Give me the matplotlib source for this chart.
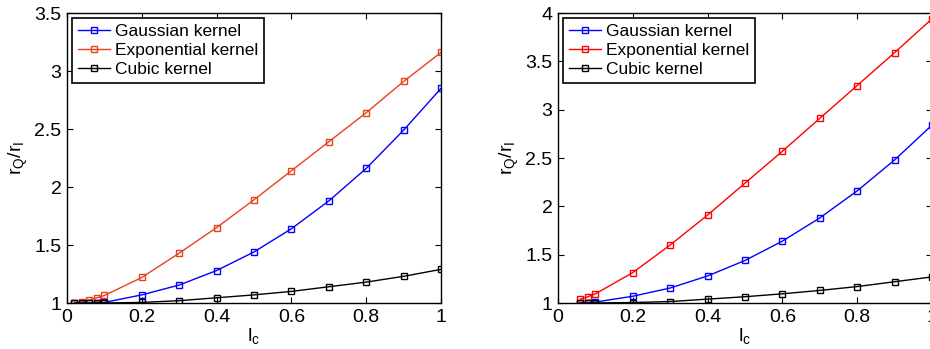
import matplotlib
matplotlib.use('Agg')
import matplotlib.pyplot as plt

plt.rcParams['font.family'] = ['Liberation Sans', 'DejaVu Sans']
plt.rcParams['mathtext.default'] = 'regular'

# left panel
x_left = [0.02, 0.04, 0.06, 0.08, 0.1, 0.2, 0.3, 0.4, 0.5, 0.6, 0.7, 0.8, 0.9, 1.0]
gauss_left = [1.0, 1.0, 1.0, 1.0, 1.005, 1.07, 1.155, 1.28, 1.44, 1.64, 1.88, 2.16, 2.49, 2.85]
expo_left = [1.0, 1.01, 1.025, 1.045, 1.065, 1.22, 1.43, 1.65, 1.89, 2.14, 2.39, 2.64, 2.91, 3.16]
cubic_left = [1.0, 1.0, 1.0, 1.0, 1.0, 1.005, 1.02, 1.045, 1.07, 1.10, 1.14, 1.18, 1.23, 1.29]

# right panel
x_right = [0.06, 0.08, 0.1, 0.2, 0.3, 0.4, 0.5, 0.6, 0.7, 0.8, 0.9, 1.0]
gauss_right = [1.0, 1.0, 1.01, 1.07, 1.155, 1.28, 1.44, 1.64, 1.88, 2.16, 2.48, 2.84]
expo_right = [1.04, 1.065, 1.095, 1.315, 1.60, 1.91, 2.24, 2.57, 2.91, 3.25, 3.59, 3.94]
cubic_right = [1.0, 1.0, 1.0, 1.005, 1.015, 1.04, 1.065, 1.095, 1.13, 1.17, 1.22, 1.27]

labels = ['Gaussian kernel', 'Exponential kernel', 'Cubic kernel']

fig = plt.figure(figsize=(9.3, 3.49), dpi=100)
W, H = 930.0, 349.0
ax1 = fig.add_axes([67 / W, 1 - 303 / H, 374 / W, 290 / H])
ax2 = fig.add_axes([558 / W, 1 - 303 / H, 374 / W, 290 / H])


def draw(ax, x, g, e, c, ecol, ymax, yticks):
    kw = dict(marker='s', markersize=5, markerfacecolor='none', linewidth=1, markeredgewidth=1)
    ax.plot(x, g, color='#0000ff', label=labels[0], **kw)
    ax.plot(x, e, color=ecol, label=labels[1], **kw)
    ax.plot(x, c, color='black', label=labels[2], **kw)
    ax.set_xlim(0, 1)
    ax.set_ylim(1, ymax)
    ax.set_xticks([0, 0.2, 0.4, 0.6, 0.8, 1])
    ax.set_xticklabels(['0', '0.2', '0.4', '0.6', '0.8', '1'])
    ax.set_yticks(yticks)
    ax.set_yticklabels(['%g' % v for v in yticks])
    ax.tick_params(direction='in', top=True, right=True, labelsize=14, length=4, width=0.8, pad=4)
    for s in ax.spines.values():
        s.set_linewidth(1)
    ax.set_xlabel('l$_c$', fontsize=14, labelpad=0)
    ax.set_ylabel('r$_Q$/r$_I$', fontsize=14, labelpad=3)
    leg = ax.legend(loc='upper left', fontsize=12.5, fancybox=False, framealpha=1,
                    edgecolor='black', handlelength=1.8, handletextpad=0.3,
                    borderpad=0.35, labelspacing=0.22, borderaxespad=0.3,
                    markerscale=0.8)
    leg.get_frame().set_linewidth(1.2)


draw(ax1, x_left, gauss_left, expo_left, cubic_left, '#e8411c', 3.5,
     [1, 1.5, 2, 2.5, 3, 3.5])
draw(ax2, x_right, gauss_right, expo_right, cubic_right, '#ff0000', 4,
     [1, 1.5, 2, 2.5, 3, 3.5, 4])

fig.savefig('out.png', dpi=100)
